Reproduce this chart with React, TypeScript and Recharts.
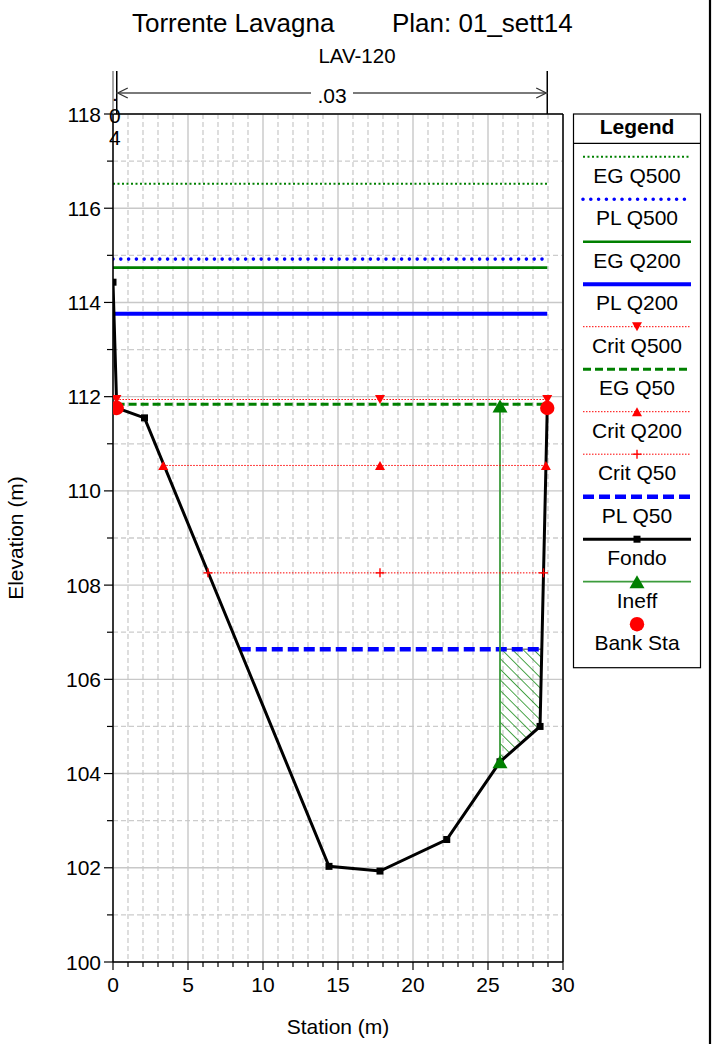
import React from 'react';
import { ComposedChart, Line, Area, XAxis, YAxis, CartesianGrid, ReferenceLine } from 'recharts';

const FONT = '"Liberation Sans", Arial, Helvetica, sans-serif';

// ---------- data ----------
const fondoStation = [0, 0.25, 2.1, 14.4, 17.8, 22.25, 25.8, 28.47, 28.95];
const fondoElevation = [114.43, 111.76, 111.55, 102.03, 101.93, 102.6, 104.25, 105.0, 111.76];

const egQ500Station = [0, 28.95];
const egQ500Elevation = [116.52, 116.52];
const plQ500Station = [0, 28.95];
const plQ500Elevation = [114.92, 114.92];
const egQ200Station = [0, 28.95];
const egQ200Elevation = [114.74, 114.74];
const plQ200Station = [0, 28.95];
const plQ200Elevation = [113.76, 113.76];
const critQ500Station = [0.23, 17.8, 28.95];
const critQ500Elevation = [111.94, 111.94, 111.94];
const egQ50Station = [0.24, 28.95];
const egQ50Elevation = [111.84, 111.84];
const critQ200Station = [3.35, 17.8, 28.86];
const critQ200Elevation = [110.54, 110.54, 110.54];
const critQ50Station = [6.33, 17.8, 28.7];
const critQ50Elevation = [108.26, 108.26, 108.26];
const plQ50Station = [8.45, 28.59];
const plQ50Elevation = [106.64, 106.64];
const ineffStation = [25.8, 25.8];
const ineffElevation = [104.25, 111.8];
const bankStation = [0.25, 28.95];
const bankElevation = [111.76, 111.76];
const hatchStation = [25.8, 28.47, 28.59];
const hatchLow = [104.25, 105.0, 106.64];
const hatchHigh = [106.64, 106.64, 106.64];

const nValues = ['.04', '.03'];
const nBreaks = [0, 0.25, 28.95];

const xTicks = [0, 1, 2, 3, 4, 5, 6, 7, 8, 9, 10, 11, 12, 13, 14, 15, 16, 17, 18, 19, 20, 21, 22, 23, 24, 25, 26, 27, 28, 29, 30];
const xMajor = [0, 5, 10, 15, 20, 25, 30];
const xMinor = [1, 2, 3, 4, 6, 7, 8, 9, 11, 12, 13, 14, 16, 17, 18, 19, 21, 22, 23, 24, 26, 27, 28, 29];
const yTicks = [100, 101, 102, 103, 104, 105, 106, 107, 108, 109, 110, 111, 112, 113, 114, 115, 116, 117, 118];
const yMajor = [100, 102, 104, 106, 108, 110, 112, 114, 116, 118];
const yMinor = [101, 103, 105, 107, 109, 111, 113, 115, 117];

const legendNames = ['EG Q500', 'PL Q500', 'EG Q200', 'PL Q200', 'Crit Q500', 'EG Q50', 'Crit Q200', 'Crit Q50', 'PL Q50', 'Fondo', 'Ineff', 'Bank Sta'];

const toPts = (s: number[], e: number[]) => s.map((x, i) => ({ x, y: e[i] }));

// ---------- styles ----------
type S = { stroke: string; width: number; dash?: string; cap?: 'round' | 'butt' };
const STYLE: Record<string, S> = {
  'EG Q500': { stroke: '#008000', width: 2, dash: '2 2.5' },
  'PL Q500': { stroke: '#0000ff', width: 3.6, dash: '0 7.8', cap: 'round' },
  'EG Q200': { stroke: '#008000', width: 2.6 },
  'PL Q200': { stroke: '#0000ff', width: 4 },
  'Crit Q500': { stroke: '#ff0000', width: 1, dash: '1.5 1.5' },
  'EG Q50': { stroke: '#008000', width: 3, dash: '8 4' },
  'Crit Q200': { stroke: '#ff0000', width: 1, dash: '1.5 1.5' },
  'Crit Q50': { stroke: '#ff0000', width: 1, dash: '1.5 1.5' },
  'PL Q50': { stroke: '#0000ff', width: 4.5, dash: '11 5' },
  'Fondo': { stroke: '#000000', width: 3 },
  'Ineff': { stroke: '#3c9c3c', width: 1.8 },
  'Bank Sta': { stroke: 'none', width: 0 },
};

function marker(name: string, cx: number, cy: number, key?: string): any {
  if (cx == null || cy == null || isNaN(cx) || isNaN(cy)) return <g key={key} />;
  switch (name) {
    case 'Crit Q500': {
      const w = 10, h = 9;
      return <path key={key} d={`M${cx - w / 2},${cy - h / 2}L${cx + w / 2},${cy - h / 2}L${cx},${cy + h / 2}Z`} fill="#ff0000" />;
    }
    case 'Crit Q200': {
      const w = 10, h = 9;
      return <path key={key} d={`M${cx - w / 2},${cy + h / 2}L${cx + w / 2},${cy + h / 2}L${cx},${cy - h / 2}Z`} fill="#ff0000" />;
    }
    case 'Crit Q50':
      return (
        <g key={key}>
          <line x1={cx - 4.5} y1={cy} x2={cx + 4.5} y2={cy} stroke="#ff0000" strokeWidth={1.4} />
          <line x1={cx} y1={cy - 4.5} x2={cx} y2={cy + 4.5} stroke="#ff0000" strokeWidth={1.4} />
        </g>
      );
    case 'Fondo':
      return <rect key={key} x={cx - 3.5} y={cy - 3.5} width={7} height={7} fill="#000" />;
    case 'Ineff': {
      const w = 15, h = 13;
      return <path key={key} d={`M${cx - w / 2},${cy + h / 2}L${cx + w / 2},${cy + h / 2}L${cx},${cy - h / 2}Z`} fill="#008000" />;
    }
    case 'Bank Sta':
      return <circle key={key} cx={cx} cy={cy} r={7.2} fill="#ff0000" />;
    default:
      return <g key={key} />;
  }
}

const hasMarker = (n: string) => ['Crit Q500', 'Crit Q200', 'Crit Q50', 'Fondo', 'Ineff', 'Bank Sta'].includes(n);

const XTick = (props: any) => {
  const { x, y, payload } = props;
  const v = payload.value;
  const major = xMajor.includes(v);
  return (
    <g>
      <line x1={x} y1={y} x2={x} y2={y + (major ? 8 : 5)} stroke="#000" strokeWidth={1.2} />
      {major && (
        <text x={x} y={y + 30} textAnchor="middle" fontSize={21} fontFamily={FONT} fill="#000">
          {v}
        </text>
      )}
    </g>
  );
};

const YTick = (props: any) => {
  const { x, y, payload } = props;
  const v = payload.value;
  const major = yMajor.includes(v);
  return (
    <g>
      <line x1={x - (major ? 9 : 6)} y1={y} x2={x} y2={y} stroke="#000" strokeWidth={1.2} />
      {major && (
        <text x={x - 12} y={y + 7.5} textAnchor="end" fontSize={21} fontFamily={FONT} fill="#000">
          {v}
        </text>
      )}
    </g>
  );
};

function seriesLine(name: string, sta: number[], elev: number[]) {
  const st = STYLE[name];
  return (
    <Line
      key={name}
      data={toPts(sta, elev)}
      dataKey="y"
      type="linear"
      stroke={st.stroke}
      strokeWidth={st.width}
      strokeDasharray={st.dash}
      strokeLinecap={st.cap || 'butt'}
      dot={hasMarker(name) ? (p: any) => marker(name, p.cx, p.cy, `${name}-${p.index}`) : false}
      activeDot={false}
      isAnimationActive={false}
      legendType="none"
    />
  );
}

const ANNOT_TOP = 118.913;
const ARROW_Y = 118.446;

export default function App() {
  const hatchData = hatchStation.map((x, i) => ({ x, range: [hatchLow[i], hatchHigh[i]] }));
  const legendTop = 114;
  const rowY = (i: number) => 156.7 + 42.5 * i;
  return (
    <div style={{ position: 'absolute', left: 0, top: 0, width: 716, height: 1044, background: '#fff', fontFamily: FONT }}>
      <div style={{ position: 'absolute', left: 0, top: 0 }}>
        <ComposedChart width={716} height={1044} margin={{ top: 114, right: 153, bottom: 52, left: 53 }}>
          <defs>
            <pattern id="ineffHatch" patternUnits="userSpaceOnUse" width="7.5" height="7.5" patternTransform="rotate(-45)">
              <line x1="0" y1="0" x2="0" y2="7.5" stroke="#008000" strokeWidth="1.4" />
            </pattern>
          </defs>
          <CartesianGrid stroke="#cccccc" strokeDasharray="5 3" strokeWidth={1.3} horizontalValues={yMinor} verticalValues={xMinor} />
          <CartesianGrid stroke="#c8c8c8" strokeWidth={1.4} horizontalValues={yMajor} verticalValues={xMajor} />
          <XAxis
            type="number"
            dataKey="x"
            domain={[0, 30]}
            ticks={xTicks}
            interval={0}
            tickSize={0}
            tickMargin={0}
            tickLine={false}
            axisLine={{ stroke: '#000', strokeWidth: 1.5 }}
            tick={(p: any) => <XTick {...p} />}
            height={30}
            allowDataOverflow
          />
          <YAxis
            type="number"
            domain={[100, 118]}
            ticks={yTicks}
            interval={0}
            tickSize={0}
            tickMargin={0}
            tickLine={false}
            axisLine={{ stroke: '#000', strokeWidth: 1.5 }}
            tick={(p: any) => <YTick {...p} />}
            width={60}
            allowDataOverflow
          />
          <ReferenceLine y={118} stroke="#000" strokeWidth={1.5} />
          <ReferenceLine x={30} stroke="#000" strokeWidth={1.5} />

          <Area
            data={hatchData}
            dataKey="range"
            type="linear"
            stroke="none"
            fill="url(#ineffHatch)"
            fillOpacity={1}
            isAnimationActive={false}
            activeDot={false}
            legendType="none"
          />
          <Line
            data={toPts([hatchStation[0], hatchStation[2]], [hatchHigh[0], hatchHigh[2]])}
            dataKey="y"
            type="linear"
            stroke="#808080"
            strokeWidth={1.5}
            dot={false}
            activeDot={false}
            isAnimationActive={false}
            legendType="none"
          />
          {seriesLine('EG Q500', egQ500Station, egQ500Elevation)}
          {seriesLine('PL Q500', plQ500Station, plQ500Elevation)}
          {seriesLine('EG Q200', egQ200Station, egQ200Elevation)}
          {seriesLine('PL Q200', plQ200Station, plQ200Elevation)}
          {seriesLine('EG Q50', egQ50Station, egQ50Elevation)}
          {seriesLine('PL Q50', plQ50Station, plQ50Elevation)}
          {seriesLine('Fondo', fondoStation, fondoElevation)}
          {seriesLine('Ineff', ineffStation, ineffElevation)}
          {seriesLine('Crit Q500', critQ500Station, critQ500Elevation)}
          {seriesLine('Crit Q200', critQ200Station, critQ200Elevation)}
          {seriesLine('Crit Q50', critQ50Station, critQ50Elevation)}
          {seriesLine('Bank Sta', bankStation, bankElevation)}

          {/* Manning n annotations above the plot */}
          <ReferenceLine
            segment={[{ x: nBreaks[0], y: 118 }, { x: nBreaks[0], y: ANNOT_TOP }]}
            ifOverflow="visible"
            stroke="#888"
            strokeWidth={1.5}
          />
          <ReferenceLine
            segment={[{ x: nBreaks[1], y: 118 }, { x: nBreaks[1], y: ANNOT_TOP }]}
            ifOverflow="visible"
            stroke="#000"
            strokeWidth={1.5}
          />
          <ReferenceLine
            segment={[{ x: nBreaks[2], y: 118 }, { x: nBreaks[2], y: ANNOT_TOP }]}
            ifOverflow="visible"
            stroke="#000"
            strokeWidth={1.5}
          />
          <ReferenceLine
            segment={[{ x: nBreaks[0], y: ARROW_Y }, { x: nBreaks[1], y: ARROW_Y }]}
            ifOverflow="visible"
            stroke="none"
            shape={(p: any) => {
              const cx = (p.x1 + p.x2) / 2;
              const y = p.y1;
              const chars = nValues[0].split('');
              return (
                <g>
                  {chars.map((c, i) => (
                    <text key={i} x={cx} y={y + 8 + 22 * i} textAnchor="middle" fontSize={21} fontFamily={FONT} fill="#000">
                      {c}
                    </text>
                  ))}
                </g>
              );
            }}
          />
          <ReferenceLine
            segment={[{ x: nBreaks[1], y: ARROW_Y }, { x: nBreaks[2], y: ARROW_Y }]}
            ifOverflow="visible"
            stroke="#777"
            shape={(p: any) => {
              const { x1, x2, y1 } = p;
              const cx = (x1 + x2) / 2;
              return (
                <g>
                  <line x1={x1} y1={y1} x2={x2} y2={y1} stroke="#7a7a7a" strokeWidth={2} />
                  <path d={`M${x1 + 11},${y1 - 5}L${x1 + 1},${y1}L${x1 + 11},${y1 + 5}`} fill="none" stroke="#333" strokeWidth={1.3} />
                  <path d={`M${x2 - 11},${y1 - 5}L${x2 - 1},${y1}L${x2 - 11},${y1 + 5}`} fill="none" stroke="#333" strokeWidth={1.3} />
                  <rect x={cx - 21} y={y1 - 10} width={42} height={20} fill="#fff" />
                  <text x={cx} y={y1 + 10} textAnchor="middle" fontSize={21} fontFamily={FONT} fill="#000">
                    {nValues[1]}
                  </text>
                </g>
              );
            }}
          />
        </ComposedChart>
      </div>

      <svg width={716} height={1044} style={{ position: 'absolute', left: 0, top: 0, pointerEvents: 'none' }}>
        <text x={132} y={32} fontSize={26} fontFamily={FONT} fill="#000">Torrente Lavagna</text>
        <text x={392} y={32} fontSize={26} fontFamily={FONT} fill="#000">Plan: 01_sett14</text>
        <text x={357} y={63} textAnchor="middle" fontSize={20.5} fontFamily={FONT} fill="#000">LAV-120</text>
        <text x={338} y={1034} textAnchor="middle" fontSize={21} fontFamily={FONT} fill="#000">Station (m)</text>
        <text x={23} y={538} textAnchor="middle" fontSize={21} fontFamily={FONT} fill="#000" transform="rotate(-90, 23, 538)">
          Elevation (m)
        </text>
        <line x1={710} y1={0} x2={710} y2={1044} stroke="#000" strokeWidth={2.2} />

        {/* legend */}
        <rect x={573.5} y={legendTop} width={127} height={553.7} fill="#fff" stroke="#000" strokeWidth={1.2} />
        <line x1={573.5} y1={143.3} x2={700.5} y2={143.3} stroke="#000" strokeWidth={1.2} />
        <text x={637} y={134.3} textAnchor="middle" fontSize={21} fontWeight="bold" fontFamily={FONT} fill="#000">Legend</text>
        {legendNames.map((n, i) => {
          const st = STYLE[n];
          const ly = rowY(i);
          return (
            <g key={n}>
              {st.stroke !== 'none' && (
                <line
                  x1={583}
                  y1={ly}
                  x2={691}
                  y2={ly}
                  stroke={st.stroke}
                  strokeWidth={st.width}
                  strokeDasharray={st.dash}
                  strokeLinecap={st.cap || 'butt'}
                />
              )}
              {hasMarker(n) && marker(n, 637, ly)}
              <text x={637} y={ly + 26} textAnchor="middle" fontSize={21} fontFamily={FONT} fill="#000">{n}</text>
            </g>
          );
        })}
      </svg>
    </div>
  );
}
